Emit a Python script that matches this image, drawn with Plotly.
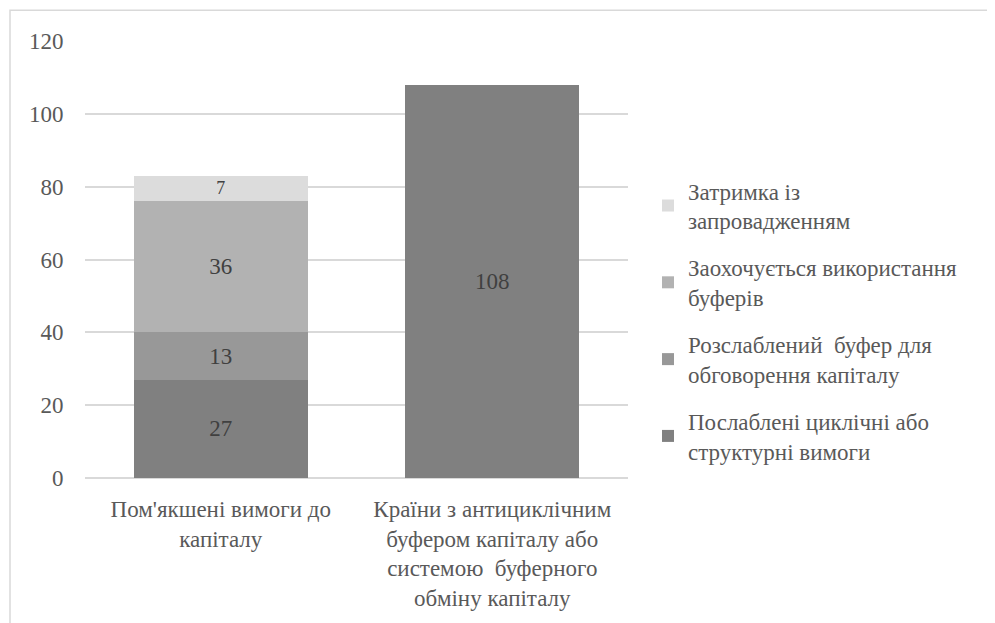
import plotly.graph_objects as go

categories = ["Пом'якшені вимоги до капіталу",
              "Країни з антициклічним буфером капіталу або системою буферного обміну капіталу"]
tick_labels = ["Пом'якшені вимоги до<br>капіталу",
               "Країни з антициклічним<br>буфером капіталу або<br>системою  буферного<br>обміну капіталу"]

series_names = ["Послаблені циклічні або<br>структурні вимоги",
                "Розслаблений  буфер для<br>обговорення капіталу",
                "Заохочується використання<br>буферів",
                "Затримка із<br>запровадженням"]
s_weakened = [27, 108]
s_relaxed = [13, None]
s_encouraged = [36, None]
s_delay = [7, None]
series_values = [s_weakened, s_relaxed, s_encouraged, s_delay]
colors = ["#808080", "#989898", "#b2b2b2", "#dcdcdc"]

OFF = 8  # page offset
W, H = 995 - OFF, 623 - OFF
L, R, T, B = 85 - OFF, 628 - OFF, 41 - OFF, 481 - OFF
FF = "Liberation Serif, DejaVu Serif, serif"
FS = 23

fig = go.Figure()
for i, (name, vals, col) in enumerate(zip(series_names, series_values, colors)):
    fig.add_trace(go.Bar(
        x=categories, y=vals, name=name, marker=dict(color=col, line=dict(width=0)),
        text=[str(v) if v is not None else "" for v in vals],
        textposition="inside", insidetextanchor="middle", textangle=0,
        textfont=dict(family=FF, size=FS, color="#404040"),
        legendgroup=str(i), legendrank=10 - i, cliponaxis=False,
    ))

pw = R - L
ph = B - T
fig.update_layout(
    width=W, height=H,
    margin=dict(l=L, r=W - R, t=T, b=H - B, pad=0),
    barmode="stack", bargap=0.36,
    plot_bgcolor="white", paper_bgcolor="white",
    font=dict(family=FF, size=FS, color="#595959"),
    showlegend=True,
    legend=dict(
        x=(648 - OFF - L) / pw, xanchor="left",
        y=(B - (170 - OFF)) / ph, yanchor="top",
        traceorder="grouped", tracegroupgap=14,
        font=dict(family=FF, size=FS, color="#595959"),
        itemwidth=30,
    ),
    xaxis=dict(tickvals=categories, ticktext=tick_labels, showline=False,
               tickfont=dict(family=FF, size=FS, color="#595959"),
               ticks="outside", ticklen=10, tickcolor="rgba(0,0,0,0)"),
    yaxis=dict(range=[0, 120], dtick=20, showgrid=True, gridcolor="#d9d9d9",
               gridwidth=1.5, zeroline=True, zerolinecolor="#d9d9d9", zerolinewidth=1.5,
               tickfont=dict(family=FF, size=FS, color="#595959"),
               ticks="outside", ticklen=16, tickcolor="rgba(0,0,0,0)"),
    shapes=[dict(type="rect", xref="paper", yref="paper",
                 x0=(10 - OFF - L) / pw, x1=(1100 - L) / pw,
                 y0=(B - 700) / ph, y1=(B - (10 - OFF)) / ph,
                 line=dict(color="#d9d9d9", width=1.5), fillcolor="rgba(0,0,0,0)",
                 layer="below")],
)

fig.write_html("out.html")
